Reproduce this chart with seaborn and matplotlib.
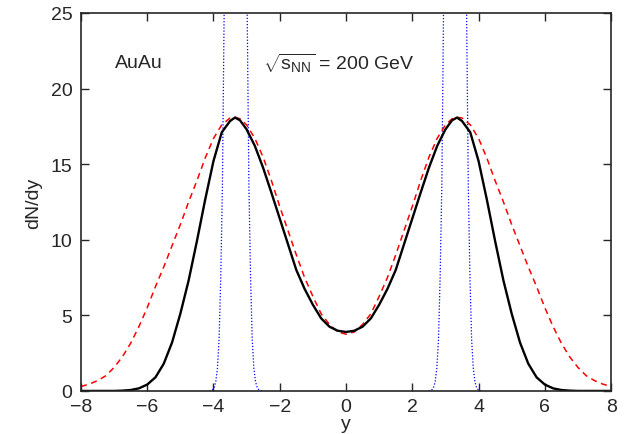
import numpy as np
import pandas as pd
import matplotlib
matplotlib.use("Agg")
import matplotlib.pyplot as plt
import seaborn as sns

# rapidity grid
y_grid = [-8, -7.75, -7.5, -7.25, -7, -6.75, -6.5, -6.25, -6, -5.75, -5.5, -5.25,
          -5, -4.75, -4.5, -4.25, -4, -3.75, -3.5, -3.35, -3.2, -3, -2.75, -2.5,
          -2.25, -2, -1.75, -1.5, -1.25, -1, -0.75, -0.5, -0.25,
          0, 0.25, 0.5, 0.75, 1, 1.25, 1.5, 1.75, 2, 2.25, 2.5, 2.75, 3, 3.2,
          3.35, 3.5, 3.75, 4, 4.25, 4.5, 4.75, 5, 5.25, 5.5, 5.75, 6, 6.25, 6.5,
          6.75, 7, 7.25, 7.5, 7.75, 8]

# black solid curve
dndy_black = [0.0, 0.0, 0.0, 0.0, 0.0, 0.02, 0.06, 0.17, 0.42, 0.9, 1.8, 3.2,
              5.1, 7.3, 9.9, 12.65, 15.2, 17.1, 17.85, 18.08, 17.9, 17.3, 16.2, 14.75,
              13.1, 11.4, 9.7, 8.0, 6.75, 5.7, 4.8, 4.25, 3.98,
              3.90, 3.98, 4.25, 4.8, 5.7, 6.75, 8.0, 9.7, 11.4, 13.1, 14.75, 16.2, 17.3, 17.9,
              18.08, 17.85, 17.1, 15.2, 12.65, 9.9, 7.3, 5.1, 3.2, 1.8, 0.9, 0.42, 0.17, 0.06,
              0.02, 0.0, 0.0, 0.0, 0.0, 0.0]

# red dashed curve
dndy_red = [0.29, 0.45, 0.68, 1.0, 1.55, 2.25, 3.15, 4.25, 5.5, 6.9, 8.2, 9.6,
            11.0, 12.5, 13.9, 15.4, 16.7, 17.6, 18.05, 18.1, 18.0, 17.6, 16.7, 15.45,
            13.9, 12.2, 10.6, 9.0, 7.5, 6.25, 5.1, 4.4, 3.9,
            3.75, 3.9, 4.4, 5.1, 6.25, 7.5, 9.0, 10.6, 12.2, 13.9, 15.45, 16.7, 17.6, 18.0,
            18.1, 18.05, 17.6, 16.7, 15.4, 13.9, 12.5, 11.0, 9.6, 8.2, 6.9, 5.5, 4.25, 3.15,
            2.25, 1.55, 1.0, 0.68, 0.45, 0.29]

# blue dotted narrow peaks
blue_centers = [-3.33, 3.29]
blue_offsets = [-0.8, -0.75, -0.7, -0.65, -0.6, -0.55, -0.5, -0.45, -0.4, -0.35, -0.3,
                -0.25, -0.2, -0.15, -0.1, -0.05, 0, 0.05, 0.1, 0.15, 0.2, 0.25, 0.3,
                0.35, 0.4, 0.45, 0.5, 0.55, 0.6, 0.65, 0.7, 0.75, 0.8]
blue_vals = [0, 0.03, 0.08, 0.23, 0.6, 1.5, 3.4, 7.5, 13.5, 24.5, 40, 61, 87, 112, 137,
             154, 160, 154, 137, 112, 87, 61, 40, 24.5, 13.5, 7.5, 3.4, 1.5, 0.6, 0.23,
             0.08, 0.03, 0]

x_ticks = [-8, -6, -4, -2, 0, 2, 4, 6, 8]
y_ticks = [0, 5, 10, 15, 20, 25]

sns.set_style("ticks")
plt.rcParams["font.family"] = ["Liberation Sans", "DejaVu Sans"]
plt.rcParams["mathtext.fontset"] = "custom"
plt.rcParams["mathtext.rm"] = "Liberation Sans"
plt.rcParams["mathtext.it"] = "Liberation Sans"
plt.rcParams["lines.solid_joinstyle"] = "round"

fig = plt.figure(figsize=(6.32, 4.35), dpi=100)
ax = fig.add_axes([0.128, 0.099, 0.839, 0.869])

df_black = pd.DataFrame({"y": y_grid, "dndy": dndy_black})
df_red = pd.DataFrame({"y": y_grid, "dndy": dndy_red})

for c in blue_centers:
    dfb = pd.DataFrame({"y": [c + o for o in blue_offsets], "dndy": blue_vals})
    sns.lineplot(data=dfb, x="y", y="dndy", ax=ax, color="#0000ff",
                 linestyle=(0, (1, 1.5)), linewidth=0.9, sort=False)

sns.lineplot(data=df_red, x="y", y="dndy", ax=ax, color="#ff0000",
             linestyle=(0, (4, 3)), linewidth=1.1, sort=False)
sns.lineplot(data=df_black, x="y", y="dndy", ax=ax, color="black",
             linewidth=1.7, sort=False)

ax.set_xlim(-8, 8)
ax.set_ylim(0, 25)
ax.set_xticks(x_ticks)
ax.set_yticks(y_ticks)
ax.set_xticklabels(["\u2212" + str(-t) if t < 0 else str(t) for t in x_ticks])
ax.tick_params(direction="in", top=True, right=True, length=6, width=1,
               labelsize=14)
ax.tick_params(axis="x", pad=5)
ax.tick_params(axis="y", pad=6)
for s in ax.spines.values():
    s.set_linewidth(1.2)
    s.set_visible(True)

ax.set_xlabel("y", fontsize=14, labelpad=0)
ax.set_ylabel("dN/dy", fontsize=14, labelpad=6)

ax.text(-6.97, 21.7, "AuAu", fontsize=14, ha="left", va="center")
ax.text(-2.5, 21.7, r"$\sqrt{s_{\mathrm{NN}}}$ = 200 GeV", fontsize=14,
        ha="left", va="center")

fig.savefig("out.png", dpi=100)
